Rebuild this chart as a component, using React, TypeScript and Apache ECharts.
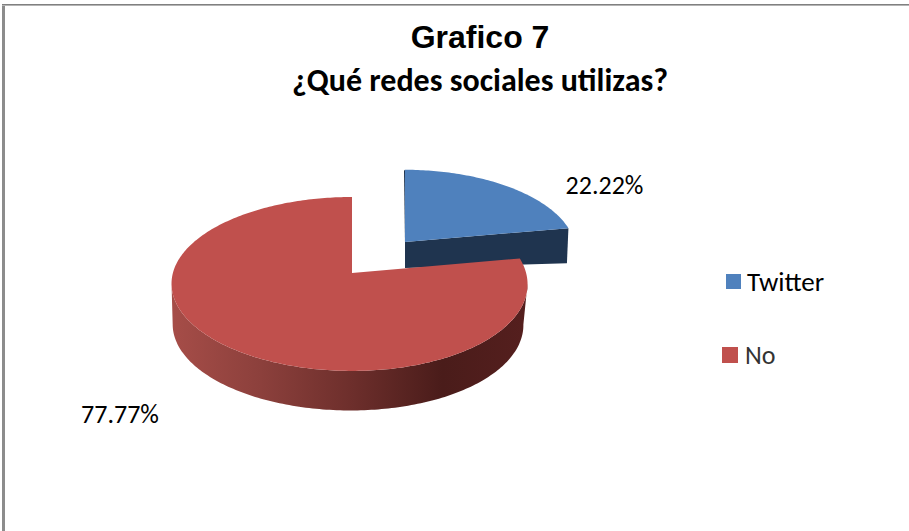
import React, { useEffect, useRef } from "react";
import * as echarts from "echarts";

const categories = ["Twitter", "No"];
const percentages = [22.22, 77.77];
const topColors = ["#4f81bd", "#c0504d"];
const sideColors = ["#1f344f", "#4a1c1a"];
const labels = ["22.22%", "77.77%"];

const FOCUS_X = 352;
const FOCUS_Y = 273;
const A = 176.6;
const B = 85.6;
const K = 0.126;

type Pt = [number, number];

// Projects a clockwise-from-top angle on the pie rim to the page.
function rim(deg: number, ox: number, oy: number, s: number, dy = 0, skew = 0): Pt {
  const r = (deg * Math.PI) / 180;
  const u = Math.sin(r);
  const v = Math.cos(r);
  const w = 1 + K * v;
  return [FOCUS_X + ox + (s * A * u) / w + skew * u * u, FOCUS_Y + oy + dy - (s * B * v) / w];
}

function arc(from: number, to: number, ox: number, oy: number, s: number, dy = 0, skew = 0): Pt[] {
  const pts: Pt[] = [];
  const n = Math.max(2, Math.ceil(Math.abs(to - from)));
  for (let i = 0; i <= n; i++) pts.push(rim(from + ((to - from) * i) / n, ox, oy, s, dy, skew));
  return pts;
}

const total = percentages.reduce((a, b) => a + b, 0);

function sliceAngles(index: number): [number, number] {
  const before = percentages.slice(0, index).reduce((a, b) => a + b, 0);
  return [(before / total) * 360, ((before + percentages[index]) / total) * 360];
}

const redSideFill = new echarts.graphic.LinearGradient(
  0,
  0,
  1,
  0,
  [
    { offset: 0, color: "#a64d48" },
    { offset: 0.25, color: "#8c403c" },
    { offset: 0.5, color: "#6e2f2c" },
    { offset: 0.76, color: "#4a1c1a" },
    { offset: 1, color: "#551f1e" },
  ],
);

function renderTwitter(params: any, api: any) {
  const [a0, a1] = sliceAngles(0);
  const ox = 53;
  const oy = -31;
  const s = 0.95;
  const skew = 1.8;
  const apex: Pt = [FOCUS_X + ox, FOCUS_Y + oy];
  const corner = rim(a1, ox, oy, s, 0, skew);
  const top = arc(a0, a1, ox, oy, s, 0, skew);
  const edge = top[0];
  return {
    type: "group",
    children: [
      {
        type: "polygon",
        shape: { points: [apex, corner, [corner[0] - 1.5, corner[1] + 35], [apex[0], apex[1] + 26]] },
        style: { fill: sideColors[0] },
      },
      {
        type: "polygon",
        shape: { points: [edge, apex, [apex[0], apex[1] + 2], [edge[0] - 1, edge[1] + 1]] },
        style: { fill: sideColors[0] },
      },
      {
        type: "polygon",
        shape: { points: [apex, ...top] },
        style: { fill: topColors[0] },
      },
      {
        type: "text",
        style: {
          text: labels[0],
          x: 604.5,
          y: 185,
          align: "center",
          verticalAlign: "middle",
          font: '26px Carlito, Lato, sans-serif',
          fill: "#000",
        },
      },
    ],
  };
}

function renderNo(params: any, api: any) {
  const [a0, a1] = sliceAngles(1);
  const skew = -2.5;
  const top = arc(a0, a1, 0, 0, 1, 0, skew);
  const apex: Pt = [FOCUS_X, FOCUS_Y];
  const upper = arc(97, 263, 0, 0, 1, 0, skew);
  const lower = arc(263, 97, -1.5, 0, 0.985, 41, skew);
  const edge = top[top.length - 1];
  return {
    type: "group",
    children: [
      {
        type: "polygon",
        shape: { points: [...upper, ...lower] },
        style: { fill: redSideFill },
      },
      {
        type: "polygon",
        shape: { points: [edge, apex, [apex[0] - 1.5, apex[1]], [edge[0] - 1, edge[1]]] },
        style: { fill: sideColors[1] },
      },
      {
        type: "polygon",
        shape: { points: [apex, ...top] },
        style: { fill: topColors[1] },
      },
      {
        type: "text",
        style: {
          text: labels[1],
          x: 120,
          y: 414,
          align: "center",
          verticalAlign: "middle",
          font: '26px Carlito, Lato, sans-serif',
          fill: "#000",
        },
      },
    ],
  };
}

export default function App() {
  const ref = useRef<HTMLDivElement>(null);
  useEffect(() => {
    const chart = echarts.init(ref.current!, null, { renderer: "svg" });
    chart.setOption({
      animation: false,
      backgroundColor: "#ffffff",
      title: [
        {
          text: "Grafico 7",
          left: 475,
          top: 16,
          textAlign: "center",
          textStyle: { fontFamily: "Liberation Sans", fontWeight: "bold", fontSize: 32, color: "#000" },
        },
        {
          text: "¿Qué redes sociales utilizas?",
          left: 475,
          top: 59,
          textAlign: "center",
          textStyle: { fontFamily: "Carlito, Open Sans", fontWeight: "bold", fontSize: 32, color: "#000" },
        },
      ],
      legend: [
        {
          data: [categories[0]],
          left: 726,
          top: 268,
          padding: 0,
          orient: "vertical",
          icon: "rect",
          itemWidth: 15,
          itemHeight: 15,
          itemGap: 6,
          selectedMode: false,
          textStyle: { fontFamily: "Carlito, Lato", fontSize: 27, color: "#000", padding: [0, 0, 0, 1] },
        },
        {
          data: [categories[1]],
          left: 722,
          top: 342,
          padding: 0,
          orient: "vertical",
          icon: "rect",
          itemWidth: 16,
          itemHeight: 16,
          itemGap: 6,
          selectedMode: false,
          textStyle: { fontFamily: "Carlito, Lato", fontSize: 26, color: "#333", padding: [0, 0, 0, 2] },
        },
      ],
      graphic: [
        { type: "rect", shape: { x: 2, y: 4, width: 3, height: 527 }, style: { fill: "#8c8c8c" } },
        { type: "rect", shape: { x: 2, y: 4, width: 907, height: 1 }, style: { fill: "#808080" } },
        { type: "rect", shape: { x: 2, y: 5, width: 907, height: 1 }, style: { fill: "#b4b4b4" } },
      ],
      series: [
        {
          type: "custom",
          name: categories[0],
          coordinateSystem: "none",
          data: [percentages[0]],
          renderItem: renderTwitter,
          itemStyle: { color: topColors[0] },
          silent: true,
          z: 1,
        },
        {
          type: "custom",
          name: categories[1],
          coordinateSystem: "none",
          data: [percentages[1]],
          renderItem: renderNo,
          itemStyle: { color: topColors[1] },
          silent: true,
          z: 2,
        },
      ],
    });
    return () => chart.dispose();
  }, []);
  return <div ref={ref} style={{ position: "absolute", left: 0, top: 0, width: 909, height: 531 }} />;
}
